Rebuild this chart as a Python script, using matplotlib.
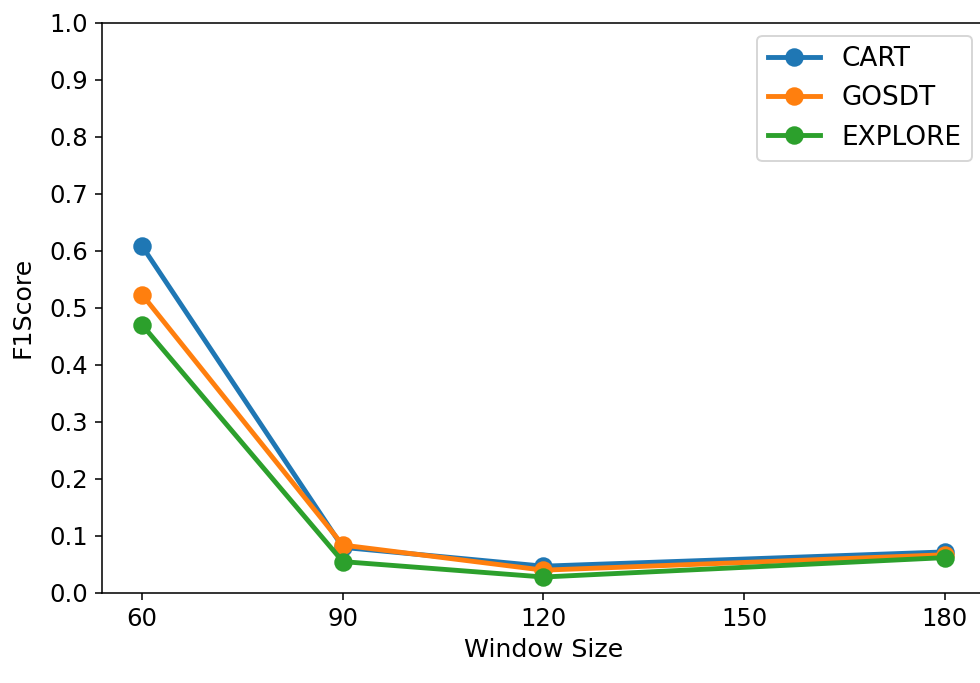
import matplotlib.pyplot as plt

# F1 score vs window size
window_sizes = [60, 90, 120, 180]
cart = [0.608, 0.080, 0.047, 0.072]
gosdt = [0.523, 0.084, 0.040, 0.067]
explore = [0.470, 0.055, 0.028, 0.062]

fig = plt.figure(figsize=(7.0, 683 / 140), dpi=140)
ax = fig.add_axes([0.1041, 0.1318, 0.9009, 0.835])

ax.plot(window_sizes, cart, marker='o', lw=2.5, ms=8.5, label='CART')
ax.plot(window_sizes, gosdt, marker='o', lw=2.5, ms=8.5, label='GOSDT')
ax.plot(window_sizes, explore, marker='o', lw=2.5, ms=8.5, label='EXPLORE')

ax.set_xticks([60, 90, 120, 150, 180])
ax.set_xlim(54, 186)
ax.set_ylim(0, 1)
ax.set_yticks([i / 10 for i in range(11)])
ax.tick_params(labelsize=12.5)
ax.set_xlabel('Window Size', fontsize=13)
ax.set_ylabel('F1Score', fontsize=13, labelpad=8)
ax.legend(loc='upper right', fontsize=13.5)

fig.savefig('out.png', dpi=140)
